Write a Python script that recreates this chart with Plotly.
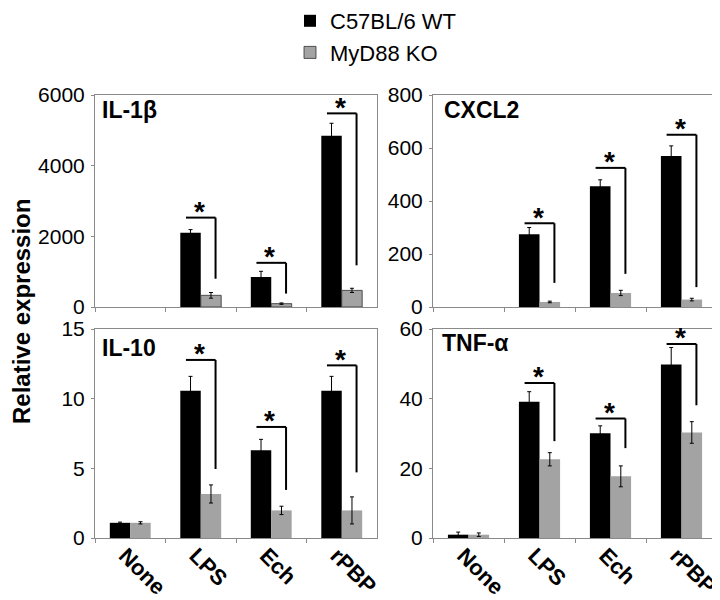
import plotly.graph_objects as go
from plotly.subplots import make_subplots

categories = ["None", "LPS", "Ech", "rPBP"]
series_names = ["C57BL/6 WT", "MyD88 KO"]

il1b_wt = [None, 2100, 850, 4850]
il1b_wt_err = [None, 90, 160, 350]
il1b_ko = [None, 330, 95, 470]
il1b_ko_err = [None, 80, 20, 60]

cxcl2_wt = [None, 275, 456, 570]
cxcl2_wt_err = [None, 25, 24, 38]
cxcl2_ko = [None, 19, 53, 28]
cxcl2_ko_err = [None, 3, 10, 5]

il10_wt = [1.09, 10.56, 6.3, 10.56]
il10_wt_err = [0.05, 1.04, 0.78, 1.04]
il10_ko = [1.09, 3.16, 1.98, 1.98]
il10_ko_err = [0.08, 0.65, 0.3, 0.97]

tnf_wt = [0.95, 39.1, 30.1, 49.8]
tnf_wt_err = [0.75, 2.9, 2.1, 4.9]
tnf_ko = [0.95, 22.6, 17.7, 30.3]
tnf_ko_err = [0.5, 1.9, 3.0, 3.1]

# significance brackets (LPS, Ech, rPBP): top of bracket, bottom of drop line
sig_categories = ["LPS", "Ech", "rPBP"]
il1b_sig_top = [2530, 1250, 5480]
il1b_sig_bot = [800, 380, 1180]
cxcl2_sig_top = [316, 525, 650]
cxcl2_sig_bot = [91, 125, 75]
il10_sig_top = [12.78, 7.97, 12.39]
il10_sig_bot = [4.95, 3.45, 4.71]
tnf_sig_top = [44.5, 34.3, 55.7]
tnf_sig_bot = [27.8, 25.8, 38.1]

panel_titles = ["IL-1β", "CXCL2", "IL-10", "TNF-α"]
y_ranges = [[0, 6000], [0, 800], [0, 15], [0, 60]]
y_dticks = [2000, 200, 5, 20]

WT_COLOR = "#000000"
KO_COLOR = "#a3a3a3"
AXIS_COLOR = "#8a8a8a"
FONT = "Liberation Sans, Arial, sans-serif"

# the page body adds an 8px offset; lay out in page pixels and compensate
OFF = 8
W, H = 720, 600


def px_x(x):
    return (x - OFF) / W


def px_y(y):
    return 1 - (y - OFF) / H


panels = [
    (1, 1, il1b_wt, il1b_wt_err, il1b_ko, il1b_ko_err, il1b_sig_top, il1b_sig_bot),
    (1, 2, cxcl2_wt, cxcl2_wt_err, cxcl2_ko, cxcl2_ko_err, cxcl2_sig_top, cxcl2_sig_bot),
    (2, 1, il10_wt, il10_wt_err, il10_ko, il10_ko_err, il10_sig_top, il10_sig_bot),
    (2, 2, tnf_wt, tnf_wt_err, tnf_ko, tnf_ko_err, tnf_sig_top, tnf_sig_bot),
]

fig = make_subplots(rows=2, cols=2)

for k, (r, c, wt, wte, ko, koe, stop, sbot) in enumerate(panels):
    show = k == 0
    fig.add_trace(go.Bar(
        x=categories, y=wt, name=series_names[0], marker_color=WT_COLOR,
        marker_line_width=0, showlegend=show, legendgroup="wt",
        error_y=dict(type="data", array=wte, color="black", thickness=1, width=2),
    ), row=r, col=c)
    fig.add_trace(go.Bar(
        x=categories, y=ko, name=series_names[1], marker_color=KO_COLOR,
        marker_line=dict(width=0.8, color="#303030") if show else dict(width=0),
        showlegend=show, legendgroup="ko",
        error_y=dict(type="data", array=koe, color="black", thickness=1, width=2),
    ), row=r, col=c)

    axn = "" if k == 0 else str(k + 1)
    xref = "x" + axn
    yref = "y" + axn
    for cat, t, b in zip(sig_categories, stop, sbot):
        i = categories.index(cat)
        fig.add_shape(type="line", xref=xref, yref=yref, x0=i - 0.21, x1=i + 0.21,
                      y0=t, y1=t, line=dict(color="black", width=2))
        fig.add_shape(type="line", xref=xref, yref=yref, x0=i + 0.21, x1=i + 0.21,
                      y0=t, y1=b, line=dict(color="black", width=2))
        fig.add_annotation(xref=xref, yref=yref, x=i - 0.02, y=t, text="<b>*</b>",
                           showarrow=False, yanchor="middle", yshift=6,
                           font=dict(family=FONT, size=28, color="black"))

x_domains = {1: [px_x(95), px_x(377)], 2: [px_x(433), px_x(717)]}
y_domains = {1: [px_y(307), px_y(95)], 2: [px_y(538), px_y(329)]}

title_pos = [(100, 110), (442, 110), (100, 348), (440, 343)]

for k, (r, c, *_rest) in enumerate(panels):
    fig.update_xaxes(domain=x_domains[c], row=r, col=c, type="category",
                     showline=True, linecolor=AXIS_COLOR, linewidth=1, mirror=True,
                     ticks="outside", tickson="boundaries", ticklen=4, tickcolor=AXIS_COLOR,
                     showgrid=False, tickangle=45, automargin=False,
                     showticklabels=(r == 2), ticklabelshift=-5, ticklabelstandoff=-5,
                     tickfont=dict(family=FONT, size=22, color="black"),
                     tickprefix="<b>", ticksuffix="</b>")
    fig.update_yaxes(domain=y_domains[r], row=r, col=c, range=y_ranges[k],
                     dtick=y_dticks[k], tick0=0, automargin=False,
                     showline=True, linecolor=AXIS_COLOR, linewidth=1, mirror=True,
                     ticks="outside", ticklen=3, tickcolor=AXIS_COLOR,
                     showgrid=False, zeroline=False, ticklabelstandoff=2,
                     tickfont=dict(family=FONT, size=21, color="black"))
    tx, ty = title_pos[k]
    fig.add_annotation(xref="paper", yref="paper", x=px_x(tx), y=px_y(ty),
                       text="<b>" + panel_titles[k] + "</b>", showarrow=False,
                       xanchor="left", yanchor="middle",
                       font=dict(family=FONT, size=23, color="black"))

fig.add_annotation(xref="paper", yref="paper", x=px_x(21), y=px_y(312),
                   text="<b>Relative expression</b>", textangle=-90, showarrow=False,
                   xanchor="center", yanchor="middle",
                   font=dict(family=FONT, size=24, color="black"))

fig.update_layout(
    width=W, height=H,
    margin=dict(l=0, r=0, t=0, b=0, autoexpand=False),
    paper_bgcolor="white", plot_bgcolor="white",
    barmode="group", bargap=0.42, bargroupgap=0,
    font=dict(family=FONT, color="black"),
    legend=dict(x=px_x(290), y=px_y(0), xanchor="left", yanchor="top",
                font=dict(family=FONT, size=22, color="black"),
                bgcolor="rgba(0,0,0,0)", tracegroupgap=0),
)

fig.write_html("out.html")
